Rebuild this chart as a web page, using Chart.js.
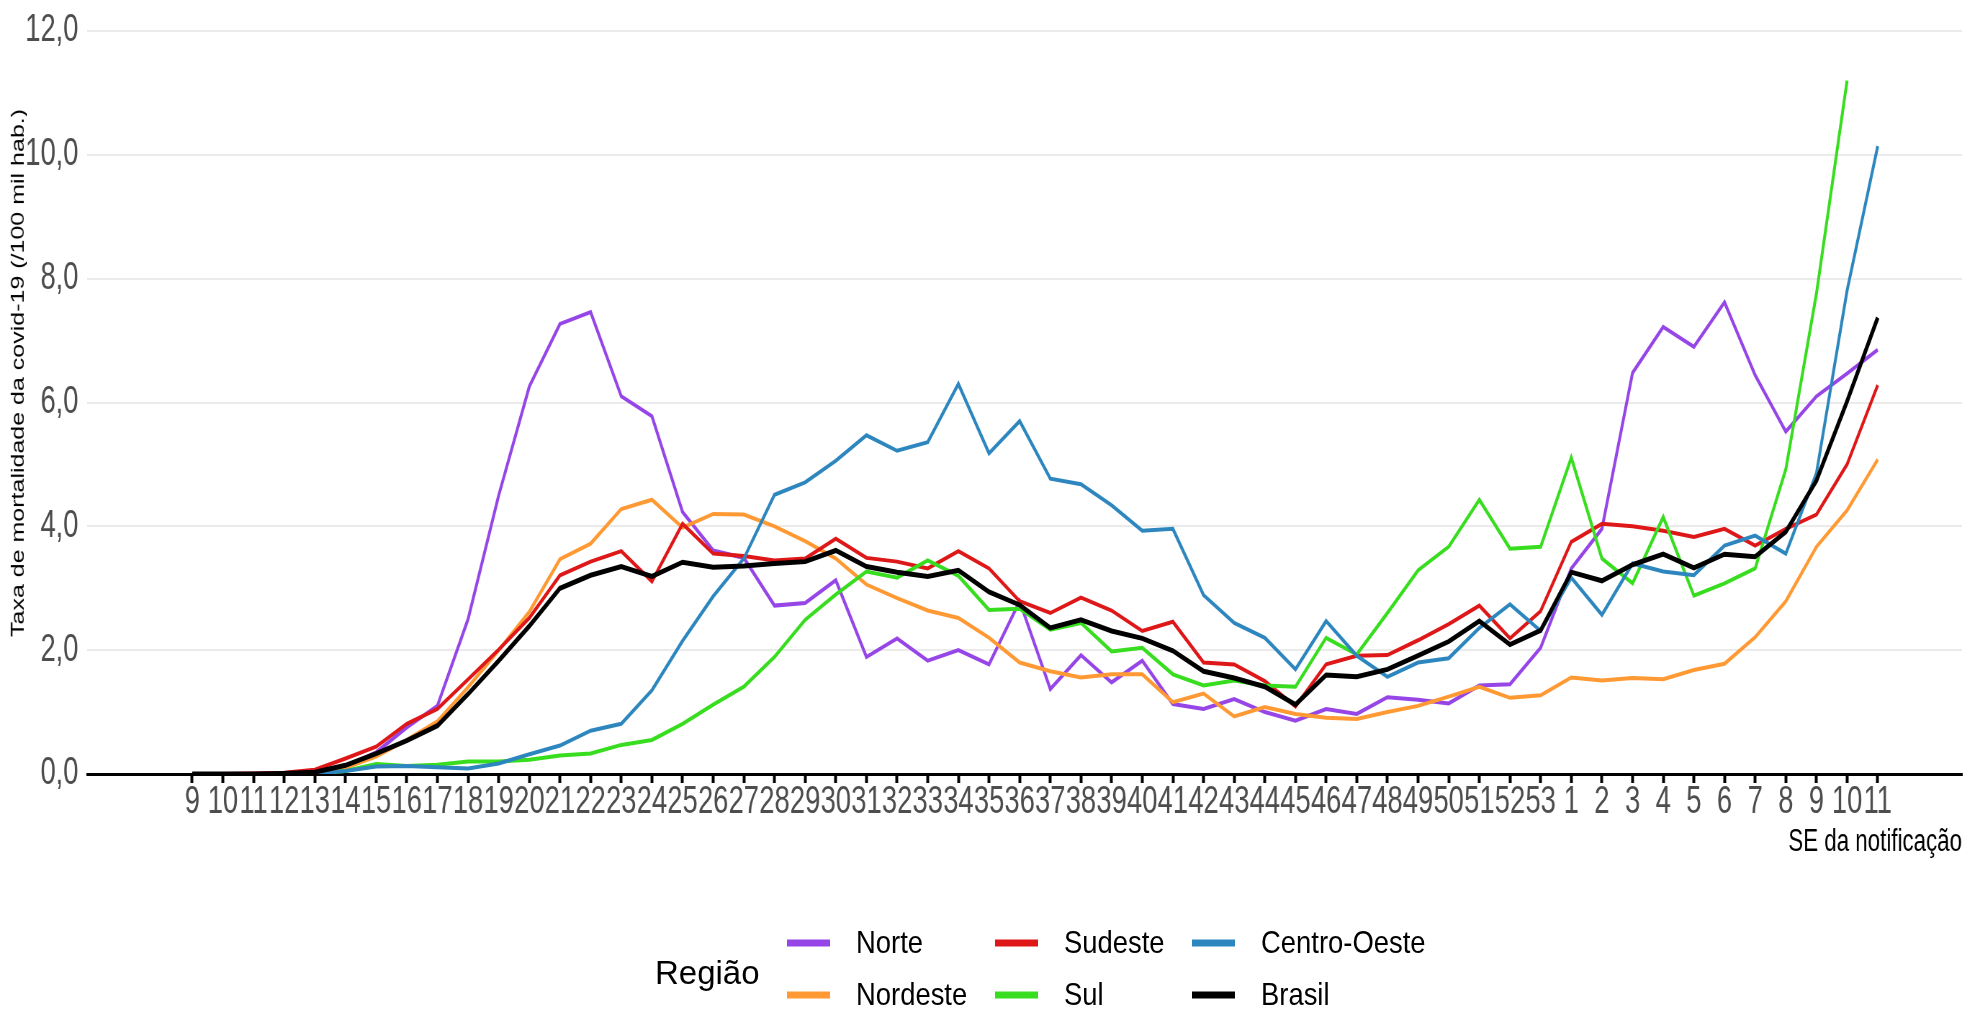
<!DOCTYPE html>
<html>
<head>
<meta charset="utf-8">
<script src="https://cdn.jsdelivr.net/npm/chart.js@4.4.1/dist/chart.umd.min.js"></script>
<style>
html,body{margin:0;padding:0;background:#fff;overflow:hidden;}
#outer{position:relative;width:1967px;height:1011px;overflow:hidden;background:#fff;}
#wrap{position:absolute;left:0;top:0;width:2732px;height:1011px;transform:scaleX(0.72);transform-origin:0 0;}
#c{position:absolute;left:0;top:0;}
#legend{position:absolute;left:0;top:0;width:1967px;height:1011px;}
.lg{position:absolute;font-family:"Liberation Sans",Arial,sans-serif;font-size:31.5px;line-height:1;color:#000;transform-origin:0 50%;transform:translateY(-50%) scaleX(0.87);white-space:nowrap;}
.key{position:absolute;height:7px;width:43px;transform:translateY(-50%);}
#lgtitle{font-size:33px;transform:translateY(-50%);}
#ytitle{position:absolute;left:24px;top:373px;font-family:"Liberation Sans",Arial,sans-serif;font-size:25px;line-height:1;color:#000;white-space:nowrap;transform:translate(-50%,-50%) rotate(-90deg);}
</style>
</head>
<body>
<div id="outer">
  <div id="wrap"><canvas id="c" width="2732" height="1011"></canvas><div id="ytitle">Taxa de mortalidade da covid-19 (/100 mil hab.)</div></div>
  <div id="legend"></div>
</div>
<script>
// Week labels (SE da notificação)
const weeks = ['9','10','11','12','13','14','15','16','17','18','19','20','21','22','23','24','25','26','27','28','29','30','31','32','33','34','35','36','37','38','39','40','41','42','43','44','45','46','47','48','49','50','51','52','53','1','2','3','4','5','6','7','8','9','10','11'];

const norte = [0,0,0,0.01,0.03,0.12,0.35,0.75,1.1,2.5, 4.5,6.26,7.27,7.46,6.1,5.78,4.23,3.61,3.49,2.72, 2.76,3.13,1.89,2.19,1.83,2.0,1.77,2.79,1.37,1.92, 1.48,1.83,1.13,1.05,1.21,1.0,0.86,1.05,0.97,1.24, 1.2,1.14,1.43,1.45,2.04, 3.32,3.96,6.48,7.22,6.9,7.62,6.44,5.53,6.1,6.47,6.85];
const nordeste = [0,0,0,0.01,0.03,0.1,0.28,0.55,0.85,1.4, 2.0,2.62,3.47,3.72,4.28,4.43,3.98,4.2,4.19,4.0, 3.76,3.48,3.06,2.84,2.64,2.52,2.2,1.8,1.66,1.56, 1.61,1.61,1.16,1.3,0.93,1.08,0.97,0.91,0.89,1.0, 1.1,1.25,1.41,1.23,1.27, 1.56,1.51,1.55,1.53,1.68,1.78,2.21,2.79,3.67,4.26,5.08];
const sudeste = [0,0,0.01,0.02,0.07,0.25,0.44,0.81,1.05,1.53, 2.01,2.52,3.21,3.43,3.6,3.11,4.04,3.56,3.52,3.45, 3.48,3.8,3.49,3.43,3.32,3.6,3.32,2.79,2.6,2.85, 2.64,2.31,2.46,1.8,1.77,1.5,1.09,1.77,1.91,1.92, 2.16,2.42,2.72,2.19,2.63, 3.75,4.04,4.0,3.93,3.83,3.96,3.69,3.96,4.19,5.0,6.28];
const sul = [0,0,0,0,0.01,0.05,0.16,0.13,0.15,0.2, 0.2,0.23,0.3,0.33,0.47,0.55,0.81,1.12,1.41,1.89, 2.49,2.9,3.27,3.17,3.45,3.2,2.65,2.67,2.33,2.44, 1.98,2.04,1.61,1.43,1.51,1.43,1.41,2.2,1.93,2.6, 3.29,3.67,4.43,3.64,3.67, 5.11,3.48,3.08,4.15,2.88,3.08,3.32,4.92,7.76,11.2,null];
const centroOeste = [0,0,0,0,0.01,0.05,0.12,0.13,0.11,0.09, 0.17,0.32,0.46,0.7,0.81,1.35,2.15,2.87,3.48,4.51, 4.71,5.06,5.47,5.22,5.36,6.3,5.18,5.7,4.77,4.68, 4.34,3.93,3.96,2.89,2.44,2.2,1.69,2.47,1.91,1.57, 1.8,1.87,2.36,2.74,2.31, 3.17,2.57,3.4,3.27,3.21,3.69,3.85,3.56,4.86,7.81,10.14];
const brasil = [0,0,0,0.01,0.03,0.14,0.33,0.54,0.78,1.29, 1.83,2.39,3.0,3.21,3.35,3.19,3.42,3.34,3.36,3.4, 3.43,3.61,3.35,3.26,3.19,3.29,2.94,2.73,2.36,2.49, 2.31,2.19,1.99,1.66,1.55,1.41,1.12,1.6,1.57,1.69, 1.91,2.14,2.47,2.09,2.32, 3.26,3.12,3.38,3.55,3.33,3.55,3.51,3.91,4.74,6.02,7.37];

const seriesNames = ['Norte','Nordeste','Sudeste','Sul','Centro-Oeste','Brasil'];
const seriesValues = [norte, nordeste, sudeste, sul, centroOeste, brasil];
const seriesColors = ['#9646E6','#FF9933','#DE1818','#37DD1E','#2D87BE','#000000'];

const yTicks = [0,2,4,6,8,10,12];

const SANS = '"Liberation Sans",Arial,sans-serif';

const datasets = seriesNames.map((name, s) => ({
  label: name,
  data: seriesValues[s].map((v, i) => ({x: i, y: v})),
  borderColor: seriesColors[s],
  backgroundColor: seriesColors[s],
  borderWidth: name === 'Brasil' ? 5 : 4,
  pointRadius: 0,
  tension: 0,
  spanGaps: false,
  order: seriesNames.length - 1 - s
}));

new Chart(document.getElementById('c'), {
  type: 'line',
  data: { datasets },
  options: {
    responsive: false,
    animation: false,
    devicePixelRatio: 1,
    layout: { padding: { left: 0, right: 7, top: 25, bottom: 150 } },
    plugins: { legend: { display: false }, tooltip: { enabled: false } },
    scales: {
      x: {
        type: 'linear',
        min: -3.43,
        max: 57.75,
        afterBuildTicks: (s) => { s.ticks = weeks.map((w, i) => ({ value: i })); },
        afterFit: (s) => { s.height = 87; },
        ticks: {
          autoSkip: false, maxRotation: 0, minRotation: 0,
          callback: (v) => weeks[v],
          font: { family: SANS, size: 38, lineHeight: 1 },
          color: '#4D4D4D',
          padding: 1
        },
        grid: { drawOnChartArea: false, drawTicks: true, tickLength: 9, tickColor: '#000', tickWidth: 4 },
        border: { display: true, color: '#000', width: 3 },
        title: {
          display: true, text: 'SE da notificação', align: 'end',
          font: { family: SANS, size: 31 }, color: '#000',
          padding: { top: 0, bottom: 0 }
        }
      },
      y: {
        min: 0, max: 12,
        afterBuildTicks: (s) => { s.ticks = yTicks.map(v => ({ value: v })); },
        afterFit: (s) => { s.width = 121; },
        ticks: {
          callback: (v) => v.toFixed(1).replace('.', ','),
          font: { family: SANS, size: 38, lineHeight: 1 },
          color: '#4D4D4D',
          padding: 12
        },
        grid: { color: '#EBEBEB', lineWidth: 2, drawTicks: false },
        border: { display: false },
        title: { display: false }
      }
    }
  }
});

// Legend (HTML, real text)
const legend = document.getElementById('legend');
function add(el){ legend.appendChild(el); return el; }
const t = document.createElement('div');
t.className = 'lg'; t.id = 'lgtitle'; t.textContent = 'Região';
t.style.left = '655px'; t.style.top = '972px';
add(t);
const colX = [787, 995, 1192];
const rowY = [943, 995];
seriesNames.forEach((name, s) => {
  const col = Math.floor(s / 2), row = s % 2;
  const k = document.createElement('div');
  k.className = 'key';
  k.style.left = colX[col] + 'px'; k.style.top = rowY[row] + 'px';
  k.style.background = seriesColors[s];
  add(k);
  const l = document.createElement('div');
  l.className = 'lg'; l.textContent = name;
  l.style.left = (colX[col] + 69) + 'px'; l.style.top = rowY[row] + 'px';
  add(l);
});
</script>
</body>
</html>
